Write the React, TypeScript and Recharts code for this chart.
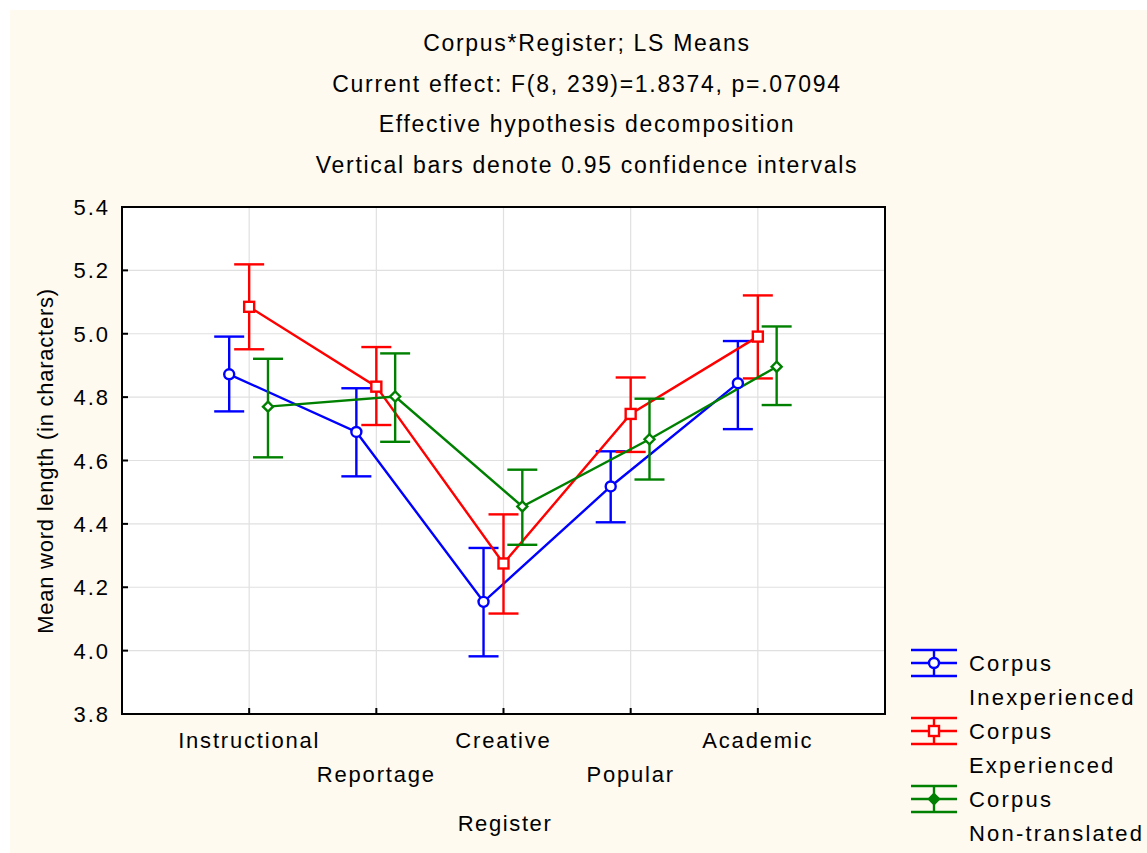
import React from "react";
import {
  ComposedChart,
  Line,
  XAxis,
  YAxis,
  CartesianGrid,
  ErrorBar,
  ReferenceArea,
  Legend,
} from "recharts";

const registers = ["Instructional", "Reportage", "Creative", "Popular", "Academic"];
const yTicks = [3.8, 4.0, 4.2, 4.4, 4.6, 4.8, 5.0, 5.2, 5.4];
const titleLines = [
  "Corpus*Register; LS Means",
  "Current effect: F(8, 239)=1.8374, p=.07094",
  "Effective hypothesis decomposition",
  "Vertical bars denote 0.95 confidence intervals",
];

// means and 95% CI bounds, per corpus
const inexpMean = [4.872, 4.69, 4.154, 4.518, 4.844];
const inexpLow = [4.755, 4.55, 3.982, 4.405, 4.699];
const inexpHigh = [4.991, 4.828, 4.324, 4.629, 4.977];

const expMean = [5.085, 4.833, 4.275, 4.747, 4.991];
const expLow = [4.951, 4.712, 4.117, 4.627, 4.859];
const expHigh = [5.219, 4.958, 4.43, 4.862, 5.121];

const ntMean = [4.77, 4.802, 4.455, 4.667, 4.896];
const ntLow = [4.61, 4.659, 4.334, 4.54, 4.775];
const ntHigh = [4.921, 4.938, 4.571, 4.795, 5.023];

const FONT = "'Liberation Sans', Arial, sans-serif";
const BLUE = "#0000ff";
const RED = "#ff0000";
const GREEN = "#008000";

const build = (mean: number[], low: number[], high: number[], shift: number) =>
  mean.map((m, i) => ({
    x: i + 1 + shift,
    y: m,
    err: [m - low[i], high[i] - m],
  }));

const inexpData = build(inexpMean, inexpLow, inexpHigh, -0.157);
const expData = build(expMean, expLow, expHigh, 0);
const ntData = build(ntMean, ntLow, ntHigh, 0.148);

const series = [
  { key: "inexp", name: ["Corpus", "Inexperienced"], color: BLUE, shape: "circle", data: inexpData },
  { key: "exp", name: ["Corpus", "Experienced"], color: RED, shape: "square", data: expData },
  { key: "nt", name: ["Corpus", "Non-translated"], color: GREEN, shape: "diamond", data: ntData },
];

function Marker({ cx, cy, shape, color, filled }: any) {
  if (cx == null || cy == null) return null;
  if (shape === "circle")
    return <circle cx={cx} cy={cy} r={5} fill={filled ? "none" : "#fff"} stroke={color} strokeWidth={2.4} />;
  if (shape === "square")
    return <rect x={cx - 5} y={cy - 5} width={10} height={10} fill={filled ? "none" : "#fff"} stroke={color} strokeWidth={2.4} />;
  return (
    <polygon
      points={`${cx},${cy - 5} ${cx + 5},${cy} ${cx},${cy + 5} ${cx - 5},${cy}`}
      fill={filled ? color : "#fff"}
      stroke={color}
      strokeWidth={2.4}
    />
  );
}

const BottomTick = ({ x, y, payload }: any) => {
  const idx = Math.round(payload.value) - 1;
  const label = registers[idx];
  const lower = idx % 2 === 1;
  return (
    <g>
      <line x1={x} y1={y} x2={x} y2={y - 6} stroke="#000" strokeWidth={2} />
      <text x={x} y={y + (lower ? 68 : 34)} textAnchor="middle" fontSize={22} letterSpacing={1.8} fill="#000" fontFamily={FONT}>
        {label}
      </text>
    </g>
  );
};

const TopTick = ({ x, y }: any) => <line x1={x} y1={y} x2={x} y2={y + 6} stroke="#000" strokeWidth={2} />;

const LeftTick = ({ x, y, payload }: any) => (
  <g>
    <line x1={x} y1={y} x2={x + 6} y2={y} stroke="#000" strokeWidth={2} />
    <text x={x - 12} y={y + 8} textAnchor="end" fontSize={22} letterSpacing={2} fill="#000" fontFamily={FONT}>
      {payload.value.toFixed(1)}
    </text>
  </g>
);

const RightTick = ({ x, y }: any) => <line x1={x} y1={y} x2={x - 6} y2={y} stroke="#000" strokeWidth={2} />;

const LegendBox = () => (
  <svg width={240} height={215}>
    {series.map((s, i) => {
      const cy = 22 + i * 68;
      return (
        <g key={s.key}>
          <line x1={6} x2={52} y1={cy - 13} y2={cy - 13} stroke={s.color} strokeWidth={2.4} />
          <line x1={6} x2={52} y1={cy} y2={cy} stroke={s.color} strokeWidth={2.4} />
          <line x1={6} x2={52} y1={cy + 13} y2={cy + 13} stroke={s.color} strokeWidth={2.4} />
          <line x1={29} x2={29} y1={cy - 13} y2={cy + 13} stroke={s.color} strokeWidth={2.4} />
          <Marker cx={29} cy={cy} shape={s.shape} color={s.color} filled={s.shape === "diamond"} />
          <text x={64} y={cy + 8} fontSize={22} letterSpacing={2.2} fontFamily={FONT} fill="#000">
            {s.name[0]}
          </text>
          <text x={64} y={cy + 42} fontSize={22} letterSpacing={2.2} fontFamily={FONT} fill="#000">
            {s.name[1]}
          </text>
        </g>
      );
    })}
  </svg>
);

export default function App() {
  return (
    <div style={{ position: "absolute", left: 0, top: 0, width: 1147, height: 853, background: "#fff", overflow: "hidden" }}>
      <div style={{ position: "absolute", left: 10, top: 10, width: 1137, height: 843, background: "#fefaf0" }} />
      {titleLines.map((t, i) => (
        <div
          key={i}
          style={{
            position: "absolute",
            left: 237,
            width: 700,
            top: 30 + i * 40.5,
            textAlign: "center",
            fontFamily: FONT,
            fontSize: 23,
            letterSpacing: 1.7,
            color: "#000",
            whiteSpace: "nowrap",
          }}
        >
          {t}
        </div>
      ))}
      <div
        style={{
          position: "absolute",
          left: 46,
          top: 461,
          transform: "translate(-50%, -50%) rotate(-90deg)",
          fontFamily: FONT,
          fontSize: 22,
          letterSpacing: 0.75,
          whiteSpace: "nowrap",
          color: "#000",
        }}
      >
        Mean word length (in characters)
      </div>
      <div
        style={{
          position: "absolute",
          left: 505,
          top: 811,
          transform: "translateX(-50%)",
          fontFamily: FONT,
          fontSize: 22,
          letterSpacing: 1.6,
          color: "#000",
        }}
      >
        Register
      </div>
      <div style={{ position: "absolute", left: 0, top: 0 }}>
        <ComposedChart width={1147} height={853} margin={{ top: 206, right: 261, bottom: 79, left: 62 }}>
          <CartesianGrid fill="#fff" stroke="#e0e0e0" strokeWidth={1.2} />
          <XAxis
            type="number"
            dataKey="x"
            domain={[0, 6]}
            ticks={[1, 2, 3, 4, 5]}
            allowDataOverflow
            height={60}
            axisLine={{ stroke: "#000", strokeWidth: 2 }}
            tickLine={false}
            tickSize={0}
            tickMargin={0}
            tick={<BottomTick />}
          />
          <XAxis
            xAxisId="top"
            orientation="top"
            type="number"
            domain={[0, 6]}
            ticks={[1, 2, 3, 4, 5]}
            height={1}
            axisLine={{ stroke: "#000", strokeWidth: 2 }}
            tickLine={false}
            tickSize={0}
            tickMargin={0}
            tick={<TopTick />}
          />
          <YAxis
            type="number"
            domain={[3.8, 5.4]}
            ticks={yTicks}
            allowDataOverflow
            width={60}
            axisLine={{ stroke: "#000", strokeWidth: 2 }}
            tickLine={false}
            tickSize={0}
            tickMargin={0}
            tick={<LeftTick />}
          />
          <YAxis
            yAxisId="right"
            orientation="right"
            type="number"
            domain={[3.8, 5.4]}
            ticks={yTicks}
            width={1}
            axisLine={{ stroke: "#000", strokeWidth: 2 }}
            tickLine={false}
            tickSize={0}
            tickMargin={0}
            tick={<RightTick />}
          />
          <ReferenceArea x1={0} x2={6} y1={3.8} y2={5.4} fill="none" stroke="#000" strokeWidth={2} ifOverflow="visible" />
          {series.map((s) => (
            <Line
              key={s.key}
              data={s.data}
              dataKey="y"
              name={s.name.join(" ")}
              stroke={s.color}
              strokeWidth={2.4}
              isAnimationActive={false}
              dot={(p: any) => <Marker key={`${s.key}-${p.index}`} cx={p.cx} cy={p.cy} shape={s.shape} color={s.color} />}
              activeDot={false}
            >
              <ErrorBar dataKey="err" direction="y" width={15} stroke={s.color} strokeWidth={2.4} isAnimationActive={false} />
            </Line>
          ))}
          <Legend
            layout="horizontal"
            align="center"
            verticalAlign="middle"
            content={<LegendBox />}
            wrapperStyle={{ position: "absolute", left: 905, top: 641, width: 240 }}
          />
        </ComposedChart>
      </div>
    </div>
  );
}
